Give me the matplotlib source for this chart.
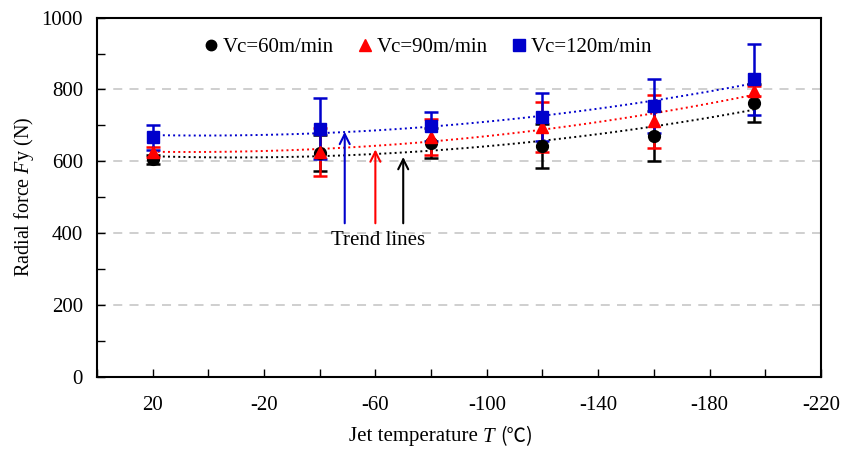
import numpy as np
import matplotlib.pyplot as plt
from matplotlib.lines import Line2D
from matplotlib.ticker import MultipleLocator

plt.rcParams['font.family'] = ['Liberation Serif', 'DejaVu Serif']
plt.rcParams['mathtext.fontset'] = 'custom'
plt.rcParams['mathtext.it'] = 'Liberation Serif:italic'
plt.rcParams['mathtext.rm'] = 'Liberation Serif'
plt.rcParams['axes.unicode_minus'] = False

# jet temperature (degC)
temps = [20, -40, -80, -120, -160, -196]

# radial force Fy (N) and error half-widths
fy_60 = [606, 624, 650, 643, 671, 763]
err_60 = [12, 50, 42, 62, 70, 53]
fy_90 = [627, 627, 667, 696, 711, 796]
err_90 = [14, 67, 50, 70, 75, 14]
fy_120 = [667, 691, 698, 724, 754, 828]
err_120 = [34, 85, 40, 66, 76, 98]

series = [
    ("Vc=60m/min", fy_60, err_60, "black", "o"),
    ("Vc=90m/min", fy_90, err_90, "red", "^"),
    ("Vc=120m/min", fy_120, err_120, "#0000cc", "s"),
]
FS = 15

fig = plt.figure(figsize=(8.57, 4.51), dpi=100)
ax = fig.add_axes([0.113, 0.164, 0.845, 0.797])

for y in [200, 400, 600, 800]:
    ax.axhline(y, color="#cccccc", lw=1.3, ls=(0, (5, 4)), zorder=0)

xs = np.linspace(20, -196, 100)
for label, vals, errs, col, mk in series:
    coef = np.polyfit(temps, vals, 2)
    ax.plot(xs, np.polyval(coef, xs), color=col, ls=":", lw=1.4, zorder=2)

handles = []
for label, vals, errs, col, mk in series:
    ms = 8.5 if mk == "o" else 9
    ax.errorbar(temps, vals, yerr=errs, color=col, fmt=mk, ms=ms,
                capsize=5, capthick=1.8, elinewidth=1.8, zorder=3)
    handles.append(Line2D([], [], color=col, marker=mk, ls="none", ms=ms - 1, label=label))

# arrows pointing at trend lines
for x, ytop, col in [(-49, 690, "#0000cc"), (-60, 641, "red"), (-70, 620, "black")]:
    ax.annotate("", xy=(x, ytop), xytext=(x, 420),
                arrowprops=dict(arrowstyle="->", color=col, lw=1.5, mutation_scale=18))
ax.text(-61, 380, "Trend lines", ha="center", va="center", fontsize=FS)

ax.set_xlim(40, -220)
ax.set_ylim(0, 1000)
ax.set_xticks([20, -20, -60, -100, -140, -180, -220])
ax.xaxis.set_minor_locator(MultipleLocator(20))
ax.yaxis.set_major_locator(MultipleLocator(200))
ax.yaxis.set_minor_locator(MultipleLocator(100))
ax.tick_params(which="both", direction="in", labelsize=FS, length=6, width=1)
ax.tick_params(axis="x", pad=14)
ax.tick_params(axis="y", pad=10)
for s in ax.spines.values():
    s.set_linewidth(1.5)

ax.set_ylabel(r"Radial force $F$y (N)", fontsize=FS - 0.5, labelpad=4)

# x label assembled from pieces so the degree sign comes from a CJK font
fig.canvas.draw()
r = fig.canvas.get_renderer()
parts = [("Jet temperature ", "normal", ['Liberation Serif']),
         ("T ", "italic", ['Liberation Serif']),
         ("(℃)", "normal", ['Noto Sans CJK SC', 'DejaVu Sans'])]
txts = [fig.text(0, 1 - 437 / 451, s, fontsize=FS if fam[0] != 'Noto Sans CJK SC' else FS - 1,
                 style=st, family=fam, va="center") for s, st, fam in parts]
widths = [t.get_window_extent(r).width for t in txts]
x0 = 441 - sum(widths) / 2
for t, w in zip(txts, widths):
    t.set_x(x0 / 857)
    x0 += w

ax.legend(handles=handles, loc="center", bbox_to_anchor=(0.455, 0.917), ncol=3, frameon=False,
          fontsize=FS, handletextpad=0.05, columnspacing=1.0, handlelength=1.0)

plt.savefig("out.png", dpi=100)
